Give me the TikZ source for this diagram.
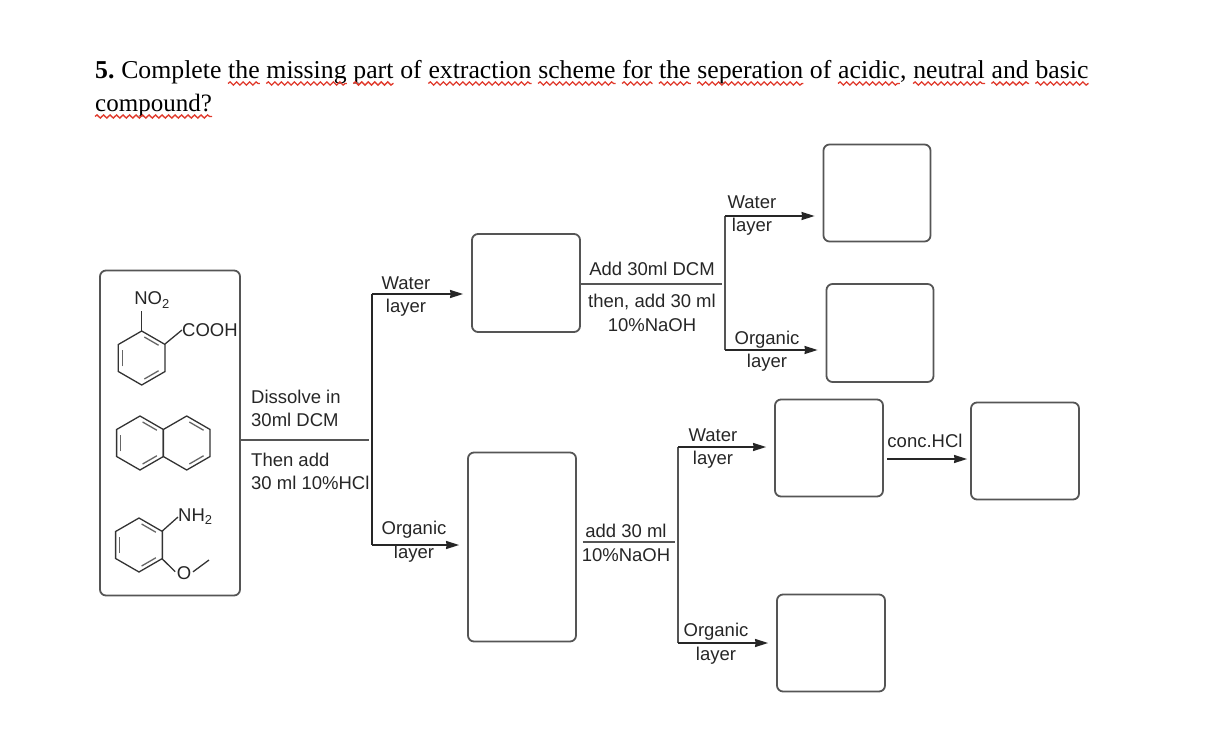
\documentclass[tikz,border=0pt]{standalone}
\usepackage{fontspec}
\setmainfont{Liberation Serif}
\newfontfamily\labelfont{Liberation Sans}
\usetikzlibrary{positioning,arrows.meta,decorations.pathmorphing}
\definecolor{linegray}{HTML}{555555}
\definecolor{wavered}{HTML}{E0392B}
\tikzset{
  blankbox/.style={draw=linegray,line width=1.8pt,rounded corners=6pt,minimum width=#1,inner sep=0pt},
  word/.style={inner sep=0pt,font=\fontsize{25.75}{30}\selectfont},
  lbl/.style={inner sep=0pt,align=center,text=black!85,font=\labelfont\fontsize{18.5}{23.5}\selectfont},
  flow/.style={draw=linegray,line width=1.8pt},
  flowarrow/.style={draw=black!85,line width=1.5pt,-{Stealth[length=13pt,width=8pt,inset=0.5pt]},shorten >=8pt},
  squiggle/.style={draw=wavered,line width=1.3pt,decorate,decoration={snake,amplitude=1.6pt,segment length=6.5pt}},
  molbond/.style={draw=black!80,line width=1.3pt},
  inbond/.style={draw=black!60,line width=1.3pt,shorten >=3pt,shorten <=3pt}
}
\begin{document}
\begin{tikzpicture}[x=1pt,y=-1pt]
\useasboundingbox (0,0) rectangle (1212,733);
% question
\node[word,anchor=base west] (w1) at (95,79) {\textbf{5.}};
\foreach \w/\ws/\g [remember=\w as \p (initially w1)] in {w2/Complete/6.4,w3/the/6.4,w4/missing/6.4,w5/part/6.4,w6/of/6.4,w7/extraction/6.4,w8/scheme/6.4,w9/for/6.4,w10/the/6.4,w11/seperation/6.4,w12/of/6.4,w13/acidic/6.4,w14/{,}/0,w15/neutral/6.4,w16/and/6.4,w17/basic/6.4}{\node[word,base right=\g pt of \p] (\w) {\ws};}
\node[word,anchor=base west,font=\fontsize{25}{30}\selectfont] (w18) at (95,112) {compound?};
\foreach \w in {w3,w4,w5,w7,w8,w9,w10,w11,w13,w15,w16,w17,w18}{\draw[squiggle] ([yshift=-4.5pt]\w.base west)--([yshift=-4.5pt]\w.base east);}
% boxes
\node[blankbox=140pt,minimum height=325pt] (mix) at (170,433) {};
\node[blankbox=108pt,minimum height=98pt] (aq) at (526,283) {};
\node[blankbox=108pt,minimum height=189pt] (org) at (522,547) {};
\node[blankbox=107pt,minimum height=97pt] (aqW) at (877,193) {};
\node[blankbox=107pt,minimum height=98pt] (aqO) at (880,333) {};
\node[blankbox=108pt,minimum height=97pt] (orgW) at (829,448) {};
\node[blankbox=108pt,minimum height=97pt] (orgO) at (831,643) {};
\node[blankbox=108pt,minimum height=97pt] (ppt) at (1025,451) {};
% molecules
\foreach \cx/\cy/\bonds in {141.7/358/{150,270,30},140/443/{150,270,30},186.7/443/{270,30},139/545/{150,270,30}}{
  \draw[molbond,shift={(\cx,\cy)}] (30:27)--(90:27)--(150:27)--(210:27)--(270:27)--(330:27)--cycle;
  \foreach \a in \bonds {\draw[inbond,shift={(\cx,\cy)}] (\a:22.5)--(\a+60:22.5);}
}
\node[lbl] (no2) at (152,300) {NO\textsubscript{2}};
\node[lbl,anchor=west] (cooh) at (182,330) {COOH};
\node[lbl,anchor=west] (nh2) at (178,517) {NH\textsubscript{2}};
\node[lbl] (oxy) at (184,573) {O};
\draw[molbond] (141.7,331)--(141.7,311);
\draw[molbond] (165,344)--(cooh.west);
\draw[molbond] (162.3,531)--(nh2.west);
\draw[molbond,shorten >=2pt] (162.3,559)--(oxy.west);
\draw[molbond,shorten <=2pt] (oxy.east)--(209,560);
% junctions
\coordinate (inA) at (369,440);
\coordinate (jW) at (372,294);
\coordinate (jO) at (372,545);
\coordinate (inB) at (722,284);
\coordinate (jWW) at (725,216);
\coordinate (jWO) at (725,350);
\coordinate (inC) at (675,542);
\coordinate (jOW) at (678,447);
\coordinate (jOO) at (678,643);
\coordinate (inD) at (887,459);
% connectors
\draw[flow,line width=1.3pt] (mix.east |- inA)--(inA);
\draw[flow,draw=black!85,line width=1.3pt] (jW)--(jO);
\draw[flowarrow] (jW)--(jW -| aq.west);
\draw[flowarrow] (jO)--(jO -| org.west);
\draw[flow] (aq.east |- inB)--(inB);
\draw[flow] (jWW)--(jWO);
\draw[flowarrow] (jWW)--(jWW -| aqW.west);
\draw[flowarrow] (jWO)--(jWO -| aqO.west);
\draw[flow,shorten <=6pt] (org.east |- inC)--(inC);
\draw[flow] (jOW)--(jOO);
\draw[flowarrow] (jOW)--(jOW -| orgW.west);
\draw[flowarrow] (jOO)--(jOO -| orgO.west);
\draw[flowarrow,shorten >=3pt] (inD)--(inD -| ppt.west);
% labels
\node[lbl,align=left,anchor=west] (dis) at (251,408.5) {Dissolve in\\30ml DCM};
\node[lbl,align=left,anchor=west] (hcl) at (251,471.5) {Then add\\30 ml 10\%HCl};
\node[lbl] (lw1) at (406,296.5) {Water\\layer};
\node[lbl] (lo1) at (414,541.5) {Organic\\layer};
\node[lbl] (dcm) at (652,268.5) {Add 30ml DCM};
\node[lbl] (naoh1) at (652,313) {then, add 30 ml\\10\%NaOH};
\node[lbl] (lw2) at (752,215.5) {Water\\layer};
\node[lbl] (lo2) at (767,351) {Organic\\layer};
\node[lbl] (naoh2) at (626,543) {add 30 ml\\10\%NaOH};
\node[lbl] (lw3) at (713,448.5) {Water\\layer};
\node[lbl] (lo3) at (716,643.5) {Organic\\layer};
\node[lbl] (conc) at (925,440.5) {conc.HCl};
\end{tikzpicture}
\end{document}
